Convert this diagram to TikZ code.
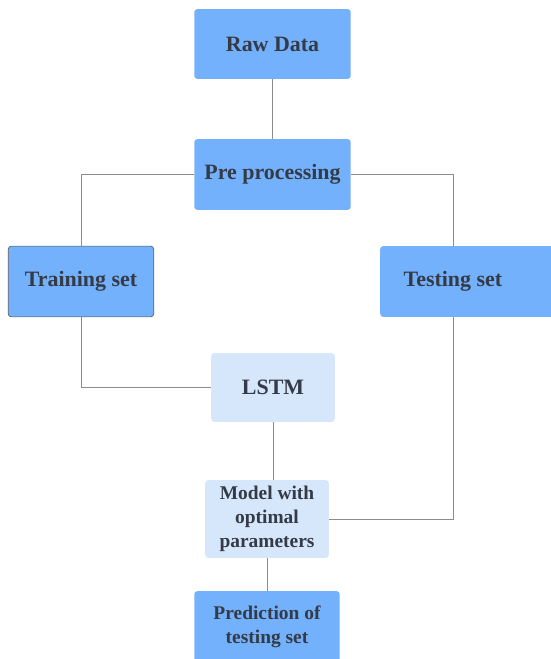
\documentclass[tikz,border=0pt]{standalone}
\usepackage{fontspec}
\setmainfont{Liberation Serif}
\definecolor{boxblue}{HTML}{74B1FC}
\definecolor{boxpale}{HTML}{D6E7FC}
\definecolor{inkgray}{HTML}{343A46}
\definecolor{wiregray}{HTML}{8C8C8C}
\begin{document}
\begin{tikzpicture}[x=1bp, y=-1bp,
    blk/.style={fill=boxblue, rounded corners=3bp, text=inkgray, inner sep=0pt,
        align=center, font=\fontsize{22}{26}\selectfont\bfseries},
    paleblk/.style={blk, fill=boxpale},
    twoline/.style={font=\fontsize{19.5}{24}\selectfont\bfseries},
    wire/.style={draw=wiregray, line width=0.8bp}]
    \path[use as bounding box, clip] (0,0) rectangle (551,659);

    % top of the pipeline
    \node[blk, minimum width=157, minimum height=70] (raw) at (272.5,44) {Raw Data};
    \node[blk, minimum width=157, minimum height=71] (pre) at (272.5,174.5) {Pre processing};

    % the split
    \node[blk, draw=inkgray!85, line width=0.6bp, minimum width=146, minimum height=71]
        (train) at (81,281.5) {Training set};
    \node[blk, anchor=west, minimum width=180, minimum height=71]
        (test) at (380,281.5) {Testing set\hspace{34bp}};

    % model and output
    \node[paleblk, minimum width=124, minimum height=69] (lstm) at (273,387.5) {LSTM};
    \node[paleblk, twoline, minimum width=124, minimum height=78]
        (model) at (267,519) {Model with\\optimal\\parameters};
    \node[blk, twoline, anchor=north, minimum width=146, minimum height=72]
        (pred) at (267,591) {Prediction of\\testing set};

    \coordinate (testtop) at (453,246);
    \coordinate (testbot) at (453,317);

    \draw[wire] (raw) -- (pre);
    \draw[wire] (pre.west) -| (train.north);
    \draw[wire] (pre.east) -| (testtop);
    \draw[wire] (train.south) |- (lstm.west);
    \draw[wire] (lstm.south) -- (lstm.south |- model.north);
    \draw[wire] (testbot) |- (model.east);
    \draw[wire] (model) -- (pred);
\end{tikzpicture}
\end{document}
